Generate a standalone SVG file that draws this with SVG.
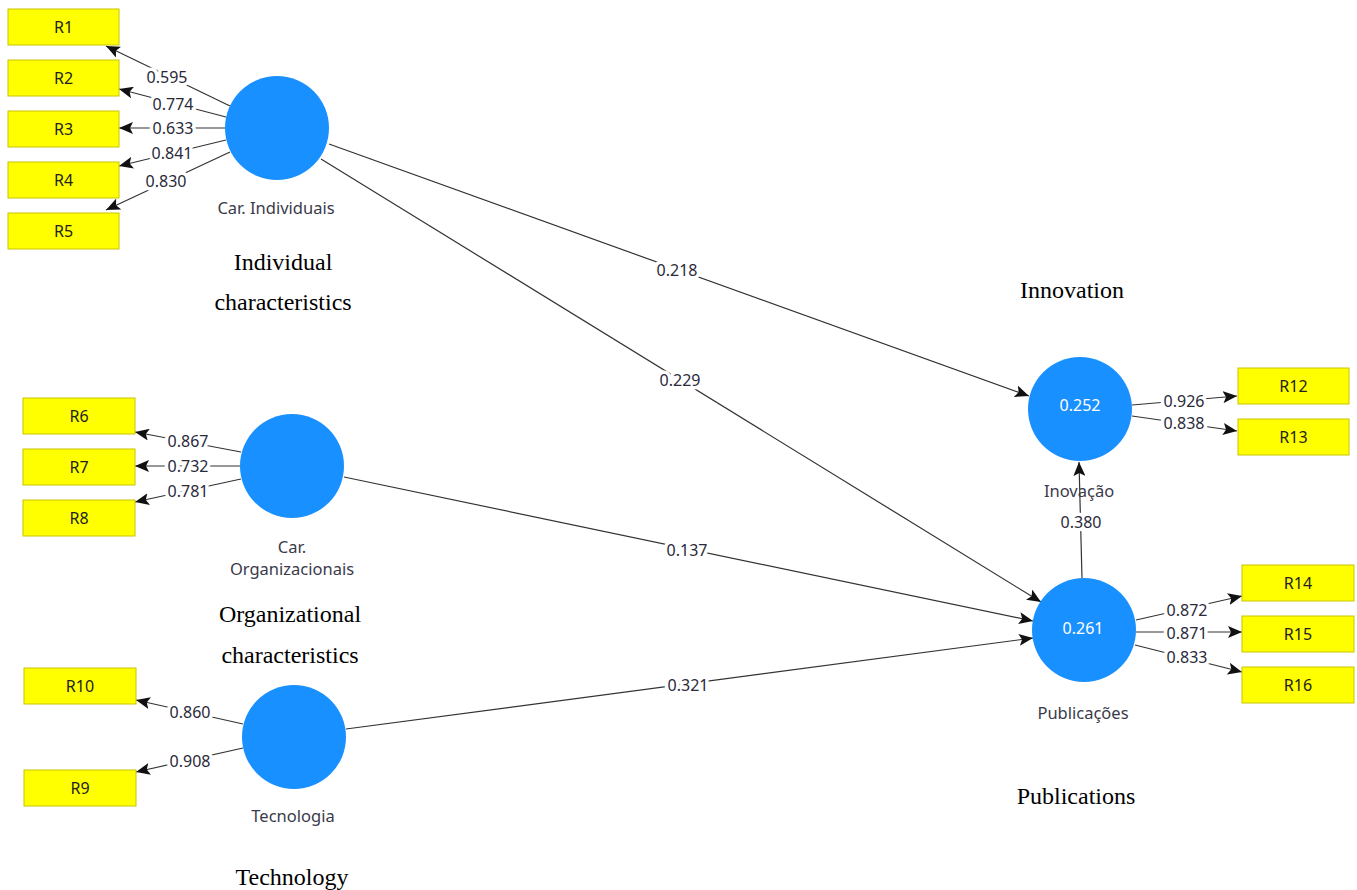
<svg xmlns="http://www.w3.org/2000/svg" width="1357" height="890" viewBox="0 0 1357 890">
<defs>
<marker id="ah" viewBox="0 0 14 12" refX="14" refY="6" markerWidth="14" markerHeight="12" markerUnits="userSpaceOnUse" orient="auto">
<path d="M0,0 L14,6 L0,12 L3,6 Z" fill="#111"/>
</marker>
</defs>
<style>
.box{fill:#ffff00;stroke:#c9c400;stroke-width:1}
.bt{font-family:"Noto Sans","Open Sans",sans-serif;font-size:16px;fill:#222;text-anchor:middle;dominant-baseline:central}
.lv{fill:#1990ff}
.lvt{font-family:"Noto Sans","Open Sans",sans-serif;font-size:16px;fill:#ffffff;text-anchor:middle;dominant-baseline:central}
.nl{font-family:"Noto Sans","Open Sans",sans-serif;font-size:16.5px;fill:#3a3a4a;text-anchor:middle;dominant-baseline:central}
.en{font-family:"Liberation Serif","Times New Roman",serif;font-size:24px;fill:#000;text-anchor:middle;dominant-baseline:central}
.e{stroke:#333;stroke-width:1.2;fill:none;marker-end:url(#ah)}
.el{font-family:"Noto Sans","Open Sans",sans-serif;font-size:16px;fill:#2a2a3a;text-anchor:middle;dominant-baseline:central;stroke:#fff;stroke-width:7;paint-order:stroke;stroke-linejoin:round}
</style>
<rect width="1357" height="890" fill="#fff"/>
<g id="connectors">
<line class="e" x1="230" y1="106" x2="106" y2="46"/>
<line class="e" x1="226" y1="117" x2="119" y2="89"/>
<line class="e" x1="225" y1="128" x2="119" y2="128"/>
<line class="e" x1="226" y1="140" x2="119" y2="166"/>
<line class="e" x1="230" y1="152" x2="106" y2="210"/>
<line class="e" x1="241" y1="452" x2="135" y2="432"/>
<line class="e" x1="240" y1="466" x2="135" y2="466"/>
<line class="e" x1="241" y1="479" x2="135" y2="502"/>
<line class="e" x1="243" y1="724" x2="136" y2="700"/>
<line class="e" x1="243" y1="748" x2="136" y2="772"/>
<line class="e" x1="1132" y1="405" x2="1237" y2="396"/>
<line class="e" x1="1132" y1="416" x2="1237" y2="431"/>
<line class="e" x1="1136" y1="620" x2="1242" y2="596"/>
<line class="e" x1="1136" y1="632" x2="1242" y2="632"/>
<line class="e" x1="1135" y1="645" x2="1242" y2="672"/>
<line class="e" x1="329" y1="144" x2="1029" y2="396"/>
<line class="e" x1="321" y1="159" x2="1041" y2="602"/>
<line class="e" x1="344" y1="477" x2="1033" y2="621"/>
<line class="e" x1="346" y1="729" x2="1033" y2="638"/>
<line class="e" x1="1082" y1="578" x2="1079" y2="462"/>
<text class="el" x="167" y="77">0.595</text>
<text class="el" x="173" y="104">0.774</text>
<text class="el" x="173" y="128">0.633</text>
<text class="el" x="172" y="153">0.841</text>
<text class="el" x="166" y="181">0.830</text>
<text class="el" x="188" y="441">0.867</text>
<text class="el" x="188" y="466">0.732</text>
<text class="el" x="188" y="491">0.781</text>
<text class="el" x="190" y="712">0.860</text>
<text class="el" x="190" y="761">0.908</text>
<text class="el" x="1184" y="401">0.926</text>
<text class="el" x="1184" y="423">0.838</text>
<text class="el" x="1187" y="610">0.872</text>
<text class="el" x="1187" y="633">0.871</text>
<text class="el" x="1187" y="657">0.833</text>
<text class="el" x="677" y="270">0.218</text>
<text class="el" x="680" y="380">0.229</text>
<text class="el" x="687" y="550">0.137</text>
<text class="el" x="688" y="685">0.321</text>
<text class="el" x="1081" y="522">0.380</text>
</g>
<g id="R1"><rect class="box" x="8" y="9" width="111" height="36"/><text class="bt" x="63.5" y="27">R1</text></g>
<g id="R2"><rect class="box" x="8" y="60" width="111" height="36"/><text class="bt" x="63.5" y="78">R2</text></g>
<g id="R3"><rect class="box" x="8" y="111" width="111" height="36"/><text class="bt" x="63.5" y="129">R3</text></g>
<g id="R4"><rect class="box" x="8" y="162" width="111" height="36"/><text class="bt" x="63.5" y="180">R4</text></g>
<g id="R5"><rect class="box" x="8" y="213" width="111" height="36"/><text class="bt" x="63.5" y="231">R5</text></g>
<g id="R6"><rect class="box" x="23" y="398" width="112" height="36"/><text class="bt" x="79" y="416">R6</text></g>
<g id="R7"><rect class="box" x="23" y="449" width="112" height="36"/><text class="bt" x="79" y="467">R7</text></g>
<g id="R8"><rect class="box" x="23" y="500" width="112" height="36"/><text class="bt" x="79" y="518">R8</text></g>
<g id="R10"><rect class="box" x="24" y="668" width="112" height="36"/><text class="bt" x="80" y="686">R10</text></g>
<g id="R9"><rect class="box" x="24" y="770" width="112" height="36"/><text class="bt" x="80" y="788">R9</text></g>
<g id="R12"><rect class="box" x="1238" y="368" width="111" height="36"/><text class="bt" x="1293.5" y="386">R12</text></g>
<g id="R13"><rect class="box" x="1238" y="419" width="111" height="36"/><text class="bt" x="1293.5" y="437">R13</text></g>
<g id="R14"><rect class="box" x="1242" y="565" width="112" height="36"/><text class="bt" x="1298" y="583">R14</text></g>
<g id="R15"><rect class="box" x="1242" y="616" width="112" height="36"/><text class="bt" x="1298" y="634">R15</text></g>
<g id="R16"><rect class="box" x="1242" y="667" width="112" height="36"/><text class="bt" x="1298" y="685">R16</text></g>
<g id="CarIndividuais"><circle class="lv" cx="277" cy="128" r="52"/><text class="nl" x="276" y="207">Car. Individuais</text></g>
<g id="CarOrganizacionais"><circle class="lv" cx="292" cy="466" r="52"/><text class="nl" x="292" y="546">Car.</text><text class="nl" x="292" y="568">Organizacionais</text></g>
<g id="Tecnologia"><circle class="lv" cx="294" cy="737" r="52"/><text class="nl" x="293" y="815">Tecnologia</text></g>
<g id="Inovacao"><circle class="lv" cx="1080" cy="409" r="52"/><text class="lvt" x="1080" y="405">0.252</text><text class="nl" x="1079" y="490">Inovação</text></g>
<g id="Publicacoes"><circle class="lv" cx="1084" cy="630" r="52"/><text class="lvt" x="1083" y="628">0.261</text><text class="nl" x="1083" y="712">Publicações</text></g>
<g id="annotations">
<text class="en" x="283" y="262">Individual</text>
<text class="en" x="283" y="302">characteristics</text>
<text class="en" x="290" y="614">Organizational</text>
<text class="en" x="290" y="655">characteristics</text>
<text class="en" x="292" y="877">Technology</text>
<text class="en" x="1072" y="290">Innovation</text>
<text class="en" x="1076" y="796">Publications</text>
</g>
</svg>
